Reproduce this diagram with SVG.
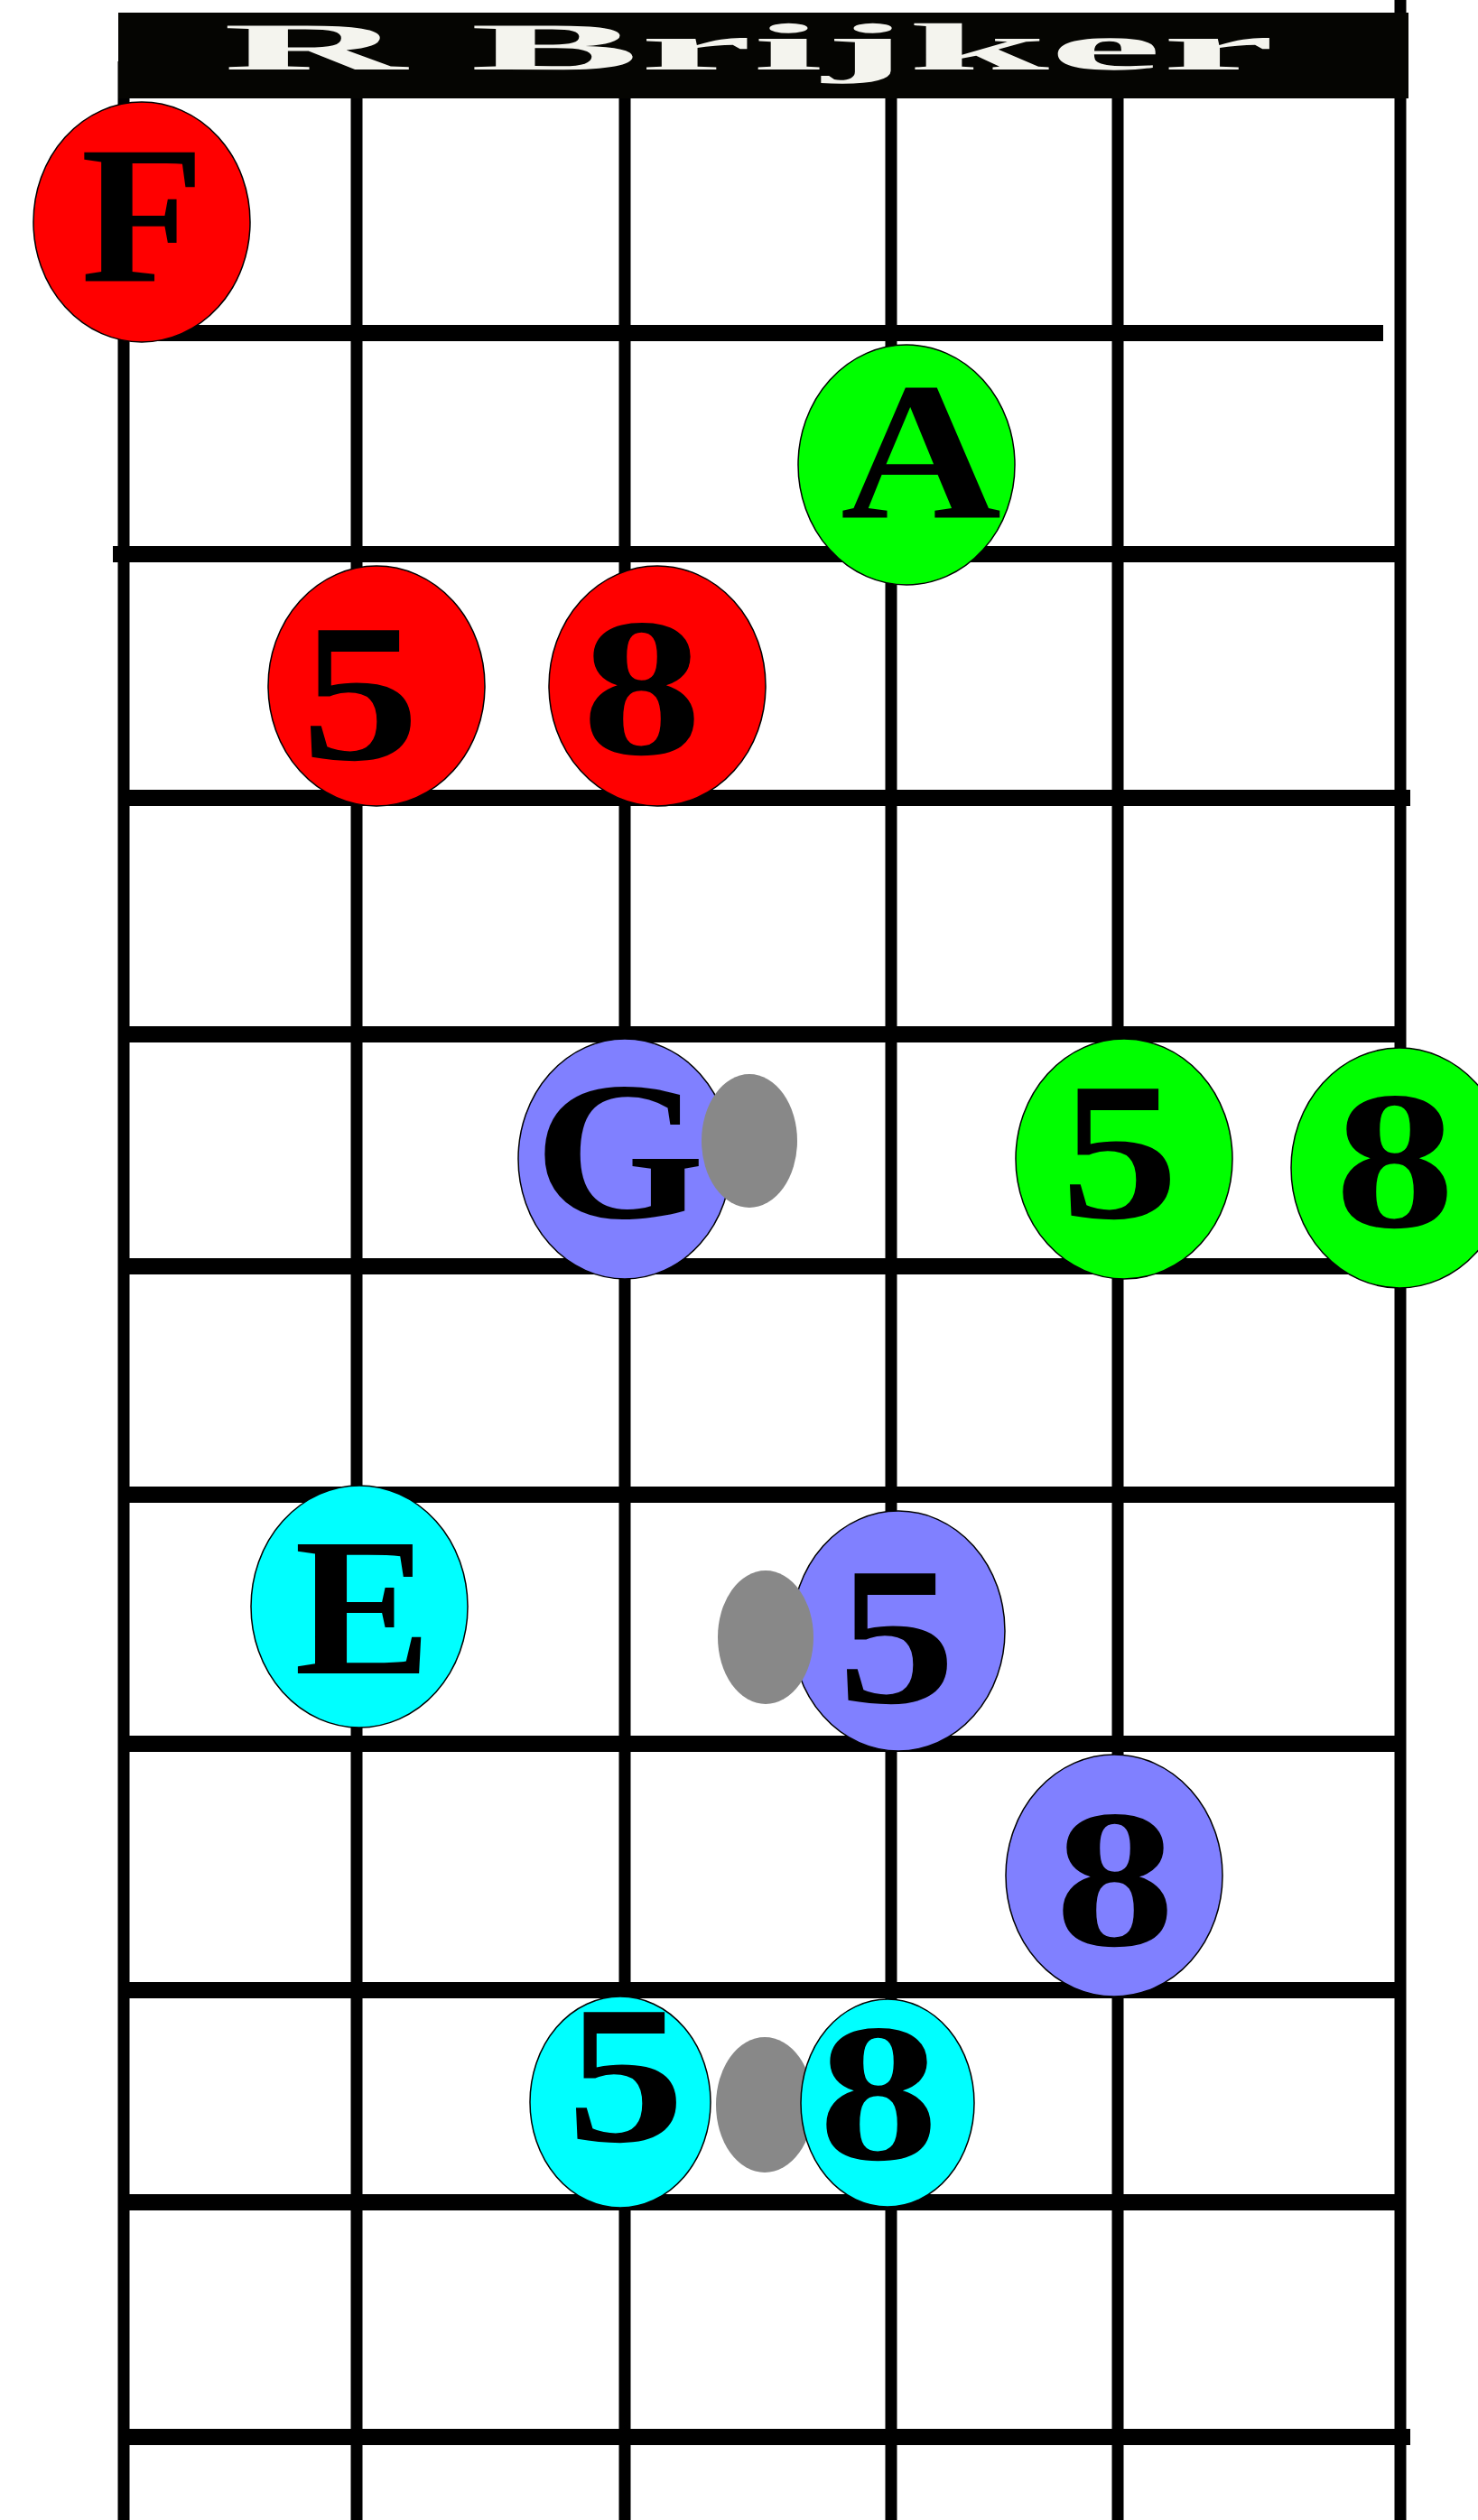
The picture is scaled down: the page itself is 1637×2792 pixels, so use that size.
<svg xmlns="http://www.w3.org/2000/svg" width="1637" height="2792" viewBox="0 0 1637 2792">
<style>
.s{stroke:#000;stroke-width:13;fill:none}
.f{stroke:#000;stroke-width:18;fill:none}
.n{stroke:#000;stroke-width:1.5}
.g{fill:#888888}
.t{font-weight:bold;font-size:218px;fill:#000;text-anchor:middle}
</style>
<rect width="1637" height="2792" fill="#fff"/>
<g id="fretboard">
<line class="s" x1="137" y1="68" x2="137" y2="2792"/>
<line class="s" x1="395" y1="108" x2="395" y2="2792"/>
<line class="s" x1="692" y1="108" x2="692" y2="2792"/>
<line class="s" x1="987" y1="108" x2="987" y2="2792"/>
<line class="s" x1="1238" y1="108" x2="1238" y2="2792"/>
<line class="s" x1="1551" y1="0" x2="1551" y2="2792"/>
<line class="f" x1="147" y1="369" x2="1532" y2="369"/>
<line class="f" x1="125" y1="614" x2="1545" y2="614"/>
<line class="f" x1="137" y1="884" x2="1562" y2="884"/>
<line class="f" x1="140" y1="1146" x2="1548" y2="1146"/>
<line class="f" x1="140" y1="1403" x2="1550" y2="1403"/>
<line class="f" x1="140" y1="1656" x2="1548" y2="1656"/>
<line class="f" x1="137" y1="1932" x2="1548" y2="1932"/>
<line class="f" x1="137" y1="2205" x2="1548" y2="2205"/>
<line class="f" x1="137" y1="2440" x2="1548" y2="2440"/>
<line class="f" x1="137" y1="2700" x2="1562" y2="2700"/>
</g>
<g id="title">
<rect x="131" y="14" width="1429" height="95" fill="#050502"/>
<text x="247" y="77" font-family="Liberation Serif, Times New Roman, serif" font-weight="bold" font-size="74" fill="#f4f4ee" textLength="1165" lengthAdjust="spacingAndGlyphs">R Brijker</text>
</g>
<g id="connectors"></g>
<g font-family="Liberation Serif, Times New Roman, serif" lengthAdjust="spacingAndGlyphs">
<g id="node-F"><ellipse class="n" cx="157" cy="246" rx="120" ry="133" fill="#ff0000"/><text class="t" x="158" y="312" textLength="137" lengthAdjust="spacingAndGlyphs">F</text></g>
<g id="node-A"><ellipse class="n" cx="1004" cy="515" rx="120" ry="133" fill="#00ff00"/><text class="t" x="1020" y="574" textLength="178" lengthAdjust="spacingAndGlyphs">A</text></g>
<g id="node-red5"><ellipse class="n" cx="417" cy="760" rx="120" ry="133" fill="#ff0000"/><text class="t" x="399" y="841" textLength="131" lengthAdjust="spacingAndGlyphs">5</text></g>
<g id="node-red8"><ellipse class="n" cx="728" cy="760" rx="120" ry="133" fill="#ff0000"/><text class="t" x="711" y="835" textLength="133" lengthAdjust="spacingAndGlyphs">8</text></g>
<g id="node-G"><ellipse class="n" cx="692" cy="1284" rx="118" ry="133" fill="#8080ff"/><text class="t" x="686" y="1349" textLength="189" lengthAdjust="spacingAndGlyphs">G</text></g>
<g id="dot-1"><ellipse class="g" cx="830" cy="1264" rx="53" ry="74"/></g>
<g id="node-green5"><ellipse class="n" cx="1245" cy="1284" rx="120" ry="133" fill="#00ff00"/><text class="t" x="1240" y="1349" textLength="131" lengthAdjust="spacingAndGlyphs">5</text></g>
<g id="node-green8"><ellipse class="n" cx="1550" cy="1294" rx="120" ry="133" fill="#00ff00"/><text class="t" x="1545" y="1359" textLength="133" lengthAdjust="spacingAndGlyphs">8</text></g>
<g id="node-E"><ellipse class="n" cx="398" cy="1780" rx="120" ry="134" fill="#00ffff"/><text class="t" x="402" y="1854" textLength="152" lengthAdjust="spacingAndGlyphs">E</text></g>
<g id="node-blue5"><ellipse class="n" cx="995" cy="1807" rx="118" ry="133" fill="#8080ff"/><text class="t" x="993" y="1886" textLength="131" lengthAdjust="spacingAndGlyphs">5</text></g>
<g id="dot-2"><ellipse class="g" cx="848" cy="1814" rx="53" ry="74"/></g>
<g id="node-blue8"><ellipse class="n" cx="1234" cy="2078" rx="120" ry="134" fill="#8080ff"/><text class="t" x="1235" y="2155" textLength="133" lengthAdjust="spacingAndGlyphs">8</text></g>
<g id="node-cyan5"><ellipse class="n" cx="687" cy="2329" rx="100" ry="117" fill="#00ffff"/><text class="t" x="693" y="2372" textLength="131" lengthAdjust="spacingAndGlyphs">5</text></g>
<g id="dot-3"><ellipse class="g" cx="847" cy="2332" rx="54" ry="75"/></g>
<g id="node-cyan8"><ellipse class="n" cx="983" cy="2330" rx="96" ry="115" fill="#00ffff"/><text class="t" x="973" y="2392" textLength="133" lengthAdjust="spacingAndGlyphs">8</text></g>
</g>
</svg>
